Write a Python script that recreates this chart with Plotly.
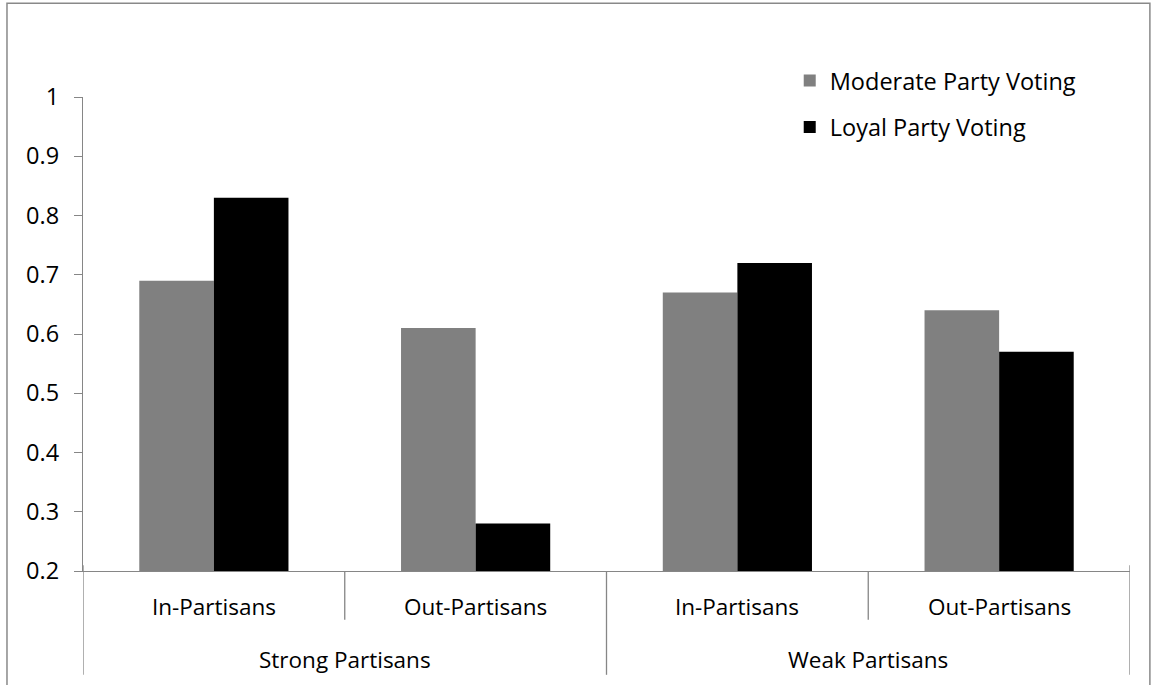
import plotly.graph_objects as go

groups = ["Strong Partisans", "Strong Partisans", "Weak Partisans", "Weak Partisans"]
subgroups = ["In-Partisans", "Out-Partisans", "In-Partisans", "Out-Partisans"]
moderate = [0.69, 0.61, 0.67, 0.64]
loyal = [0.83, 0.28, 0.72, 0.57]
series_names = ["Moderate Party Voting", "Loyal Party Voting"]
y_ticks = [0.2, 0.3, 0.4, 0.5, 0.6, 0.7, 0.8, 0.9, 1]
y_tick_labels = ["0.2", "0.3", "0.4", "0.5", "0.6", "0.7", "0.8", "0.9", "1"]

FONT = "Open Sans"
FS = 22.5
AXIS_COLOR = "#868686"

pos = list(range(len(subgroups)))

fig = go.Figure()
fig.add_trace(go.Bar(x=pos, y=moderate, name=series_names[0], marker_color="#808080",
                     marker_line_width=0, legendgroup="a"))
fig.add_trace(go.Bar(x=pos, y=loyal, name=series_names[1], marker_color="#000000",
                     marker_line_width=0, legendgroup="b"))

shapes = []
# dividers between categories: short inside a group, long between groups
for i in range(len(pos) - 1):
    b = (pos[i] + pos[i + 1]) / 2
    y1 = -0.103 if groups[i] == groups[i + 1] else -0.219
    shapes.append(dict(type="line", xref="x", yref="paper", x0=b, x1=b, y0=0, y1=y1,
                       line=dict(color=AXIS_COLOR, width=1.3)))
# outer boundaries
for b in (pos[0] - 0.5, pos[-1] + 0.5):
    shapes.append(dict(type="line", xref="x", yref="paper", x0=b, x1=b, y0=0.012, y1=-0.219,
                       line=dict(color=AXIS_COLOR, width=1.3)))
# outer frame
shapes.append(dict(type="rect", xref="paper", yref="paper", x0=-0.0726, x1=1.019, y0=-0.27, y1=1.198,
                   line=dict(color="#898989", width=1.5), fillcolor="rgba(0,0,0,0)"))

annotations = []
for i, s in enumerate(subgroups):
    annotations.append(dict(x=pos[i], y=-0.074, xref="x", yref="paper", text=s, showarrow=False,
                            font=dict(family=FONT, size=FS, color="black"), yanchor="middle"))
seen = []
for g in groups:
    if g not in seen:
        seen.append(g)
for g in seen:
    idx = [pos[i] for i in range(len(groups)) if groups[i] == g]
    c = sum(idx) / len(idx)
    annotations.append(dict(x=c, y=-0.186, xref="x", yref="paper", text=g, showarrow=False,
                            font=dict(family=FONT, size=FS, color="black"), yanchor="middle"))

fig.update_layout(
    width=1156, height=685,
    margin=dict(l=83, r=26, t=97, b=114),
    paper_bgcolor="white", plot_bgcolor="white",
    barmode="group", bargap=0.43, bargroupgap=0,
    font=dict(family=FONT, size=FS, color="black"),
    showlegend=True,
    legend=dict(x=0.675, y=1.081, xanchor="left", yanchor="top", tracegroupgap=13,
                font=dict(family=FONT, size=23.5, color="black"), bgcolor="rgba(0,0,0,0)"),
    shapes=shapes, annotations=annotations,
    xaxis=dict(range=[pos[0] - 0.5, pos[-1] + 0.5], showticklabels=False, ticks="",
               showgrid=False, zeroline=False, showline=True, linecolor=AXIS_COLOR, linewidth=1.3,
               fixedrange=True),
    yaxis=dict(range=[0.2, 1.0], tickvals=y_ticks, ticktext=y_tick_labels, ticks="outside",
               ticklen=8, tickcolor=AXIS_COLOR, tickwidth=1.3, showgrid=False, zeroline=False,
               showline=True, linecolor=AXIS_COLOR, linewidth=1.3, ticklabelstandoff=10,
               tickfont=dict(family=FONT, size=23.5, color="black")),
)

fig.write_html("out.html", config={"displayModeBar": False},
               post_script="document.body.style.margin='0';document.body.style.overflow='hidden';")
